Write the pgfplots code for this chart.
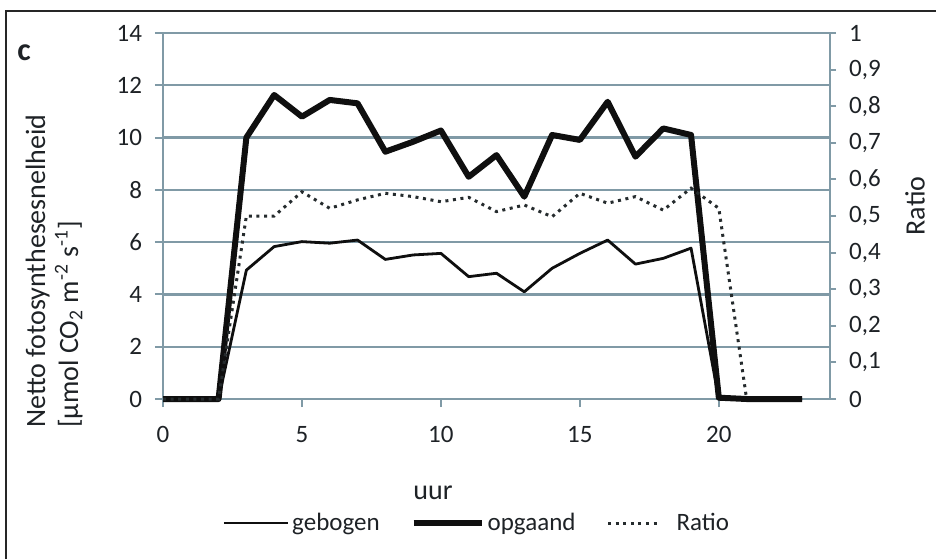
\documentclass[border=0pt]{standalone}
\usepackage{fontspec}
\setmainfont{Carlito}
\usepackage{pgfplots}
\pgfplotsset{compat=1.18}

\definecolor{gridc}{RGB}{128,154,166}
\definecolor{txt}{RGB}{30,34,38}
\definecolor{ink}{RGB}{15,15,15}

\pgfplotsset{
  chartbase/.style={
    at={(81.5pt,80pt)}, anchor=south west,
    scale only axis, width=333.5pt, height=183pt,
    xmin=0, xmax=24, clip=false,
    tick align=outside,
    axis line style={gridc, line width=1.1pt},
    tick style={gridc, line width=1pt},
    ticklabel style={font=\fontsize{12.5}{14}\selectfont, text=txt},
    /pgf/number format/assume math mode=true,
  },
  % legend sample lengths
  long legend/.style={legend image code/.code={\draw[##1] (0pt,0pt) -- (32pt,0pt);}},
  thick legend/.style={legend image code/.code={\draw[##1] (0pt,0pt) -- (34pt,0pt);}},
  dotted legend/.style={legend image code/.code={\draw[##1] (0pt,0pt) -- (26pt,0pt); \path (32pt,0pt);}},
}

\begin{document}
\begin{tikzpicture}
\path[use as bounding box] (0,0) rectangle (468pt,279.5pt);

% outer frame (top and left edges)
\draw[line width=1.2pt, black!85] (3pt,0pt) -- (3pt,274pt) -- (468pt,274pt);

% panel letter
\node[font=\fontsize{16}{18}\selectfont\bfseries, text=txt] at (12pt,253pt) {c};

% left axis: photosynthesis rates
\begin{axis}[chartbase,
  ymin=0, ymax=14, ytick={0,2,...,14},
  ymajorgrids, grid style={gridc, line width=1.1pt},
  axis x line*=bottom, axis y line*=left,
  xtick={0,5,10,15,20},
  major tick length=4pt,
  xticklabel style={yshift=-6pt},
  yticklabel style={xshift=-3pt},
]
\addplot[ink, line width=1.4pt, line join=round] coordinates {
 (0,0)(1,0)(2,0)(3,4.93)(4,5.83)(5,6.02)(6,5.96)(7,6.08)(8,5.34)(9,5.51)
 (10,5.57)(11,4.68)(12,4.81)(13,4.10)(14,5.00)(15,5.57)(16,6.08)(17,5.16)
 (18,5.38)(19,5.77)(20,0)(21,0)(22,0)(23,0)};
\addplot[ink, line width=3pt, line join=round] coordinates {
 (0,0)(1,0)(2,0)(3,10.0)(4,11.63)(5,10.80)(6,11.44)(7,11.31)(8,9.46)(9,9.84)
 (10,10.27)(11,8.50)(12,9.33)(13,7.74)(14,10.10)(15,9.91)(16,11.37)(17,9.27)
 (18,10.35)(19,10.10)(20,0.05)(21,0)(22,0)(23,0)};
\end{axis}

% right axis: ratio
\begin{axis}[chartbase,
  ymin=0, ymax=1, ytick={0,0.1,...,1},
  axis x line=none, axis y line*=right,
  major tick length=3pt,
  /pgf/number format/use comma,
  yticklabel style={xshift=3pt},
  legend columns=3,
  legend style={at={(0.0885,-0.339)}, anchor=west, draw=none, fill=none,
    font=\fontsize{12.5}{14}\selectfont, text=txt,
    /tikz/every even column/.append style={column sep=14pt},
    nodes={inner sep=1.5pt},
    inner sep=0pt},
  legend cell align=left,
]
\addlegendimage{ink, line width=1.4pt, long legend}
\addlegendentry{gebogen}
\addlegendimage{ink, line width=3pt, thick legend}
\addlegendentry{opgaand}
\addplot[ink!80!gridc, line width=1.5pt, dash pattern=on 1.5pt off 2.3pt, dotted legend] coordinates {
 (0,0)(1,0)(2,0)(3,0.500)(4,0.500)(5,0.566)(6,0.521)(7,0.544)(8,0.562)(9,0.553)
 (10,0.539)(11,0.551)(12,0.512)(13,0.530)(14,0.498)(15,0.562)(16,0.535)(17,0.553)
 (18,0.516)(19,0.576)(20,0.521)(21,0)};
\addlegendentry{Ratio}
\end{axis}

% axis titles
\node[rotate=90, anchor=base west, inner sep=0pt, text=txt,
  font=\fontsize{14}{16}\selectfont] at (22.5pt,65.5pt) {Netto fotosynthesesnelheid};
\node[rotate=90, anchor=base west, inner sep=0pt, text=txt,
  font=\fontsize{14}{16}\selectfont] at (39pt,65.5pt)
  {[µmol CO\textsubscript{2} m\textsuperscript{-2} s\textsuperscript{-1}]};
\node[rotate=90, text=txt, font=\fontsize{14}{16}\selectfont] at (457.5pt,176.5pt) {Ratio};
\node[text=txt, font=\fontsize{14}{16}\selectfont] at (216.5pt,33pt) {uur};
\end{tikzpicture}
\end{document}
